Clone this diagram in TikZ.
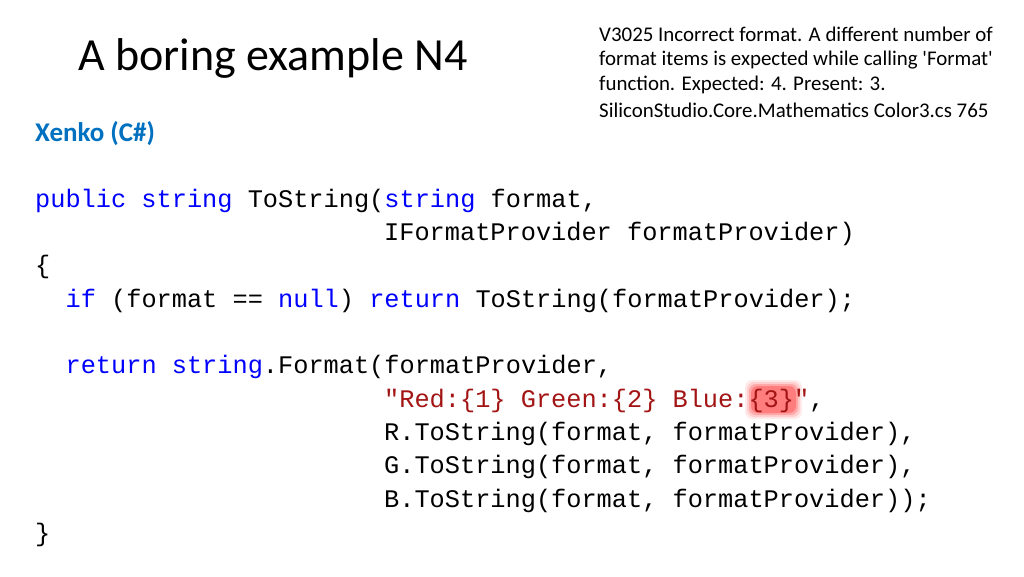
\documentclass[tikz,border=0pt]{standalone}
\usepackage{fontspec}
\setmainfont{Carlito}
\setmonofont{Liberation Mono}
\newfontfamily\notefont{Carlito}
\definecolor{kw}{RGB}{0,0,255}
\definecolor{str}{RGB}{163,21,21}
\definecolor{xen}{RGB}{0,112,192}
\begin{document}
\begin{tikzpicture}[x=1pt,y=1pt,
 code/.style={anchor=base west,inner sep=0pt,font=\fontsize{25.3}{30}\ttfamily},
 note/.style={anchor=base west,inner sep=0pt,font=\notefont\fontsize{20.9}{24}\selectfont}]
\useasboundingbox[fill=white] (0,0) rectangle (1024,-576);
\node[anchor=base west,inner sep=0pt,font=\fontsize{46}{54}\selectfont] (title) at (78,-70) {A boring example N4};
\node[note] (n1) at (599,-41) {V3025 Incorrect format. A different number of};
\node[note] (n2) at (599,-65) {format items is expected while calling 'Format'};
\node[note] (n3) at (599,-90) {function. Expected: 4. Present: 3.};
\node[note] (n4) at (599,-117) {SiliconStudio.Core.Mathematics Color3.cs 765};
\node[anchor=base west,inner sep=0pt,font=\fontsize{27}{30}\bfseries,text=xen] (xk) at (35,-141) {Xenko (C\#)};
% glow
\foreach \i/\o in {6/0.08,4/0.12,2/0.18,0/0.25}
  \fill[red,opacity=\o,rounded corners=7] (751-\i,-386+\i) rectangle (796+\i,-413-\i);
\node[code] (l1) at (35,-207) {\textcolor{kw}{public} \textcolor{kw}{string} ToString(\textcolor{kw}{string} format,};
\node[code] (l2) at (384,-240) {IFormatProvider formatProvider)};
\node[code] (l3) at (35,-273) {\{};
\node[code] (l4) at (65.4,-307) {\textcolor{kw}{if} (format == \textcolor{kw}{null}) \textcolor{kw}{return} ToString(formatProvider);};
\node[code] (l5) at (65.4,-373) {\textcolor{kw}{return} \textcolor{kw}{string}.Format(formatProvider,};
\node[code] (l6) at (384,-407) {\textcolor{str}{"Red:\{1\} Green:\{2\} Blue:\{3\}"},};
\node[code] (l7) at (384,-440) {R.ToString(format, formatProvider),};
\node[code] (l8) at (384,-473) {G.ToString(format, formatProvider),};
\node[code] (l9) at (384,-507) {B.ToString(format, formatProvider));};
\node[code] (l10) at (35,-541) {\}};
\end{tikzpicture}
\end{document}
